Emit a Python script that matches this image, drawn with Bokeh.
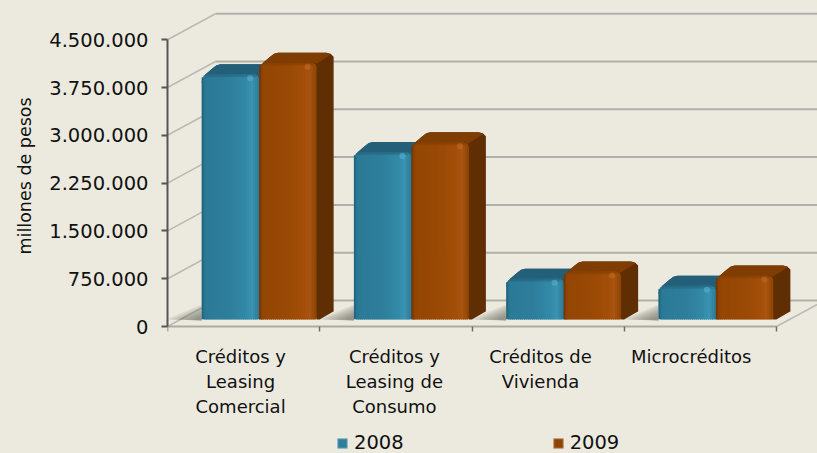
from math import sqrt, nan
from bokeh.plotting import figure
from bokeh.models import FixedTicker, Range1d, Legend, LegendItem, Title
from bokeh.embed import file_html
from bokeh.resources import INLINE

categories = ["Créditos y\nLeasing\nComercial", "Créditos y\nLeasing de\nConsumo", "Créditos de\nVivienda", "Microcréditos"]
series_names = ["2008", "2009"]
values_2008 = [3850000, 2630000, 640000, 530000]
values_2009 = [4030000, 2780000, 755000, 690000]
y_ticks = [0, 750000, 1500000, 2250000, 3000000, 3750000, 4500000]
y_labels = ["0", "750.000", "1.500.000", "2.250.000", "3.000.000", "3.750.000", "4.500.000"]
y_title = "millones de pesos"

BG = "#ECEADF"
FONT = "DejaVu Sans"
U = 1 / 152.25          # category units per pixel
V = 750000 / 47.8       # value units per pixel
W, H = 817, 453
LEFT, FLOOR_Y = 167, 326  # page pixels of the axis origin

p = figure(width=W, height=H, output_backend="svg", toolbar_location=None,
           x_range=Range1d(0, (W - LEFT) * U), y_range=Range1d(-(H - FLOOR_Y) * V, FLOOR_Y * V),
           min_border_left=LEFT, min_border_right=0, min_border_top=0, min_border_bottom=0,
           background_fill_color=BG, border_fill_color=BG, outline_line_color=None)
p.grid.visible = False

# Axes
ya = p.yaxis[0]
ya.ticker = FixedTicker(ticks=y_ticks)
ya.major_label_overrides = dict(zip(y_ticks, y_labels))
ya.bounds = (0, y_ticks[-1])
ya.major_label_text_font = FONT
ya.major_label_text_font_size = "19.5px"
ya.major_label_text_color = "#111111"
ya.major_label_standoff = 13
ya.axis_line_color = "#555555"
ya.axis_line_width = 2
ya.major_tick_line_color = "#555555"
ya.major_tick_line_width = 2
ya.major_tick_in = 0
ya.major_tick_out = 6
ya.minor_tick_line_color = None

p.add_layout(Title(text=y_title, align="left", offset=199, standoff=24, text_font=FONT,
                   text_font_size="17.5px", text_font_style="normal", text_color="#111111"), "left")

label_pos = [0.48, 1.49, 2.45, 3.44]
xa = p.xaxis[0]
xa.fixed_location = 0
xa.ticker = FixedTicker(ticks=label_pos, minor_ticks=[0, 1, 2, 3, 4])
xa.major_label_overrides = dict(zip(label_pos, categories))
xa.bounds = (0, 4)
xa.major_label_text_font = FONT
xa.major_label_text_font_size = "18px"
xa.major_label_text_color = "#111111"
xa.major_label_standoff = 14
xa.major_tick_line_color = None
xa.major_tick_in = 0
xa.major_tick_out = 0
xa.minor_tick_line_color = "#6E6E6E"
xa.minor_tick_line_width = 1.5
xa.minor_tick_in = 0
xa.minor_tick_out = 5
xa.axis_line_color = "#ABABA5"
xa.axis_line_width = 2

# 3-D walls and floor
DX, DY = 48 * U, 26 * V
gx0, gy0, gx1, gy1 = [], [], [], []
for t in y_ticks:
    gx0 += [0]; gy0 += [t]; gx1 += [DX]; gy1 += [t + DY]
p.segment(gx0, gy0, gx1, gy1, line_color="#BABAB4", line_width=1.6)
p.segment([DX] * len(y_ticks), [t + DY for t in y_ticks], [(W - LEFT) * U] * len(y_ticks),
          [t + DY for t in y_ticks], line_color="#B0B0AA", line_width=2)
p.segment([4], [0], [4 + DX], [DY], line_color="#BABAB4", line_width=1.6)

BLUE = dict(front=[(0, "#1F6078"), (.06, "#2B7A96"), (.5, "#2E7F9C"), (.78, "#338AA8"), (.88, "#3A93B2"), (1, "#2C7A96")],
            top="#235F78", side="#1F5A70", spot="#58AFC8")
BROWN = dict(front=[(0, "#6E3303"), (.06, "#944604"), (.5, "#9A4A05"), (.78, "#A34F0A"), (.88, "#A95410"), (1, "#8C4204")],
             top="#7F3C03", side="#5F2E02", spot="#C06B1F")


def mix(stops, t):
    for (a, ca), (b, cb) in zip(stops, stops[1:]):
        if a <= t <= b:
            f = (t - a) / (b - a)
            return "#%02X%02X%02X" % tuple(
                round(int(ca[i:i + 2], 16) * (1 - f) + int(cb[i:i + 2], 16) * f) for i in (1, 3, 5))
    return stops[-1][1]


BAR_PX, BASE_PX, OFF_PX, D = 57.5, 7, 15.5, 17
R = 7
sx, sy = [], []              # floor shadows
pxs, pys, pcs = [], [], []   # silhouettes, tops
ql, qr, qb, qt, qc = [], [], [], [], []  # front slices
lx, ly, lc = [], [], []      # soft lip under the top face
hx, hy, hc = [], [], []

for i in range(len(categories)):
    cx = i + 0.5 + OFF_PX * U
    base = BASE_PX * V
    x_left = cx - BAR_PX * U
    for s in (36, 32, 28, 24, 20, 16, 12, 8):
        sx.append([x_left, x_left - s * U, x_left])
        sy.append([base - 1 * V, base, base + s * .42 * V])
    for vals, st, j in ((values_2008, BLUE, 0), (values_2009, BROWN, 1)):
        x0 = cx + (j - 1) * BAR_PX * U
        x1 = x0 + BAR_PX * U
        ytop = base + vals[i]
        w = BAR_PX
        # silhouette (side colour); offsets are pixels right / up
        a = [x0 + q * U for q in (0, 1, 4, 11, 15, 19, w + 10, w + D - 3, w + D, w + D)]
        b = [ytop + q * V for q in (-8, -4, 0, 6, 9, 10, 10, 9, 6, 0)]
        c = [x1 + q * U for q in (D, D - 2, 3, 0)]
        d = [base + q * V for q in (8, 7, 0, 0)]
        pxs.append(a + c); pys.append(b + d); pcs.append(st["side"])
        # top face
        a = [x0 + q * U for q in (0, 1, 4, 11, 15, 19, w + 10, w + D - 3, w, w - 6, 5, 1)]
        b = [ytop + q * V for q in (-8, -4, 0, 6, 9, 10, 10, 8, -1, 0, 0, -3)]
        pxs.append(a); pys.append(b); pcs.append(st["top"])
        # front face as slices, each overlapped by the next to hide seams
        n = 29
        for k in range(n):
            d0, d1 = k * w / n, (k + 1) * w / n
            mid = (d0 + d1) / 2
            e = min(mid, w - mid)
            yo = R - sqrt(max(R * R - (R - e) ** 2, 0)) if e < R else 0
            bo = 2 - sqrt(max(4 - (2 - e) ** 2, 0)) if e < 2 else 0
            ql.append(x0 + d0 * U); qr.append(x0 + min(d1 + 1, w) * U)
            qb.append(base + bo * V); qt.append(ytop - yo * V)
            qc.append(mix(st["front"], mid / w))
        for h in (1.5, 3):
            lx.append([x0 + 5 * U, x1 - 5 * U, x1 - 2 * U, x0 + 2 * U])
            ly.append([ytop, ytop, ytop - h * V, ytop - h * V])
            lc.append(st["top"])
        hx.append(x1 - 9 * U); hy.append(ytop - 4 * V); hc.append(st["spot"])

p.patches(sx, sy, fill_color="#55554F", fill_alpha=0.1, line_color=None)
p.patches(pxs, pys, fill_color=pcs, line_color=None)
p.quad(left=ql, right=qr, bottom=qb, top=qt, fill_color=qc, line_color=None)
p.patches(lx, ly, fill_color=lc, fill_alpha=0.4, line_color=None)
p.scatter(hx, hy, size=6, fill_color=hc, fill_alpha=0.6, line_color=None)

# Legend
r08 = p.quad(left=[nan], right=[nan], bottom=[nan], top=[nan], fill_color="#2E7F9C", line_color="#8FB7C4")
r09 = p.quad(left=[nan], right=[nan], bottom=[nan], top=[nan], fill_color="#8F4505", line_color="#C49A72")
leg = Legend(items=[LegendItem(label=series_names[0], renderers=[r08]),
                    LegendItem(label=series_names[1], renderers=[r09])],
             orientation="horizontal", location=(169, -1), spacing=148,
             glyph_width=12, glyph_height=12, label_standoff=6, padding=0, margin=0,
             label_text_font=FONT, label_text_font_size="19.5px", label_text_color="#111111",
             background_fill_alpha=0, border_line_color=None)
p.add_layout(leg, "center")

html = file_html(p, INLINE)
html = html.replace("</head>", "<style>html,body{background:#ECEADF;margin:0!important;padding:0;overflow:hidden}</style></head>", 1)
open("out.html", "w").write(html)
